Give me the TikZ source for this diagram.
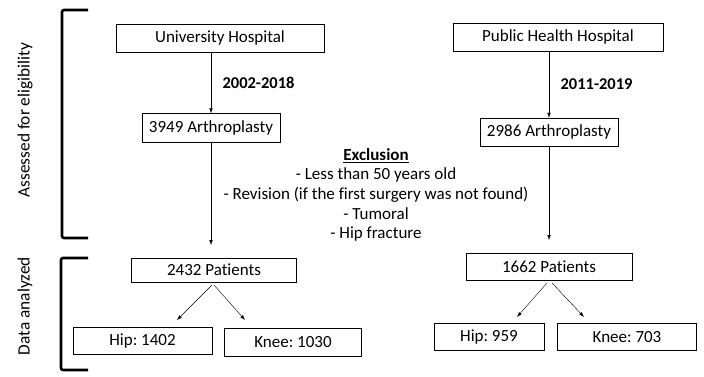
\documentclass[tikz,border=0pt]{standalone}
\usepackage{fontspec}
\setmainfont{Carlito}[Ligatures={NoCommon}]
\frenchspacing
\usetikzlibrary{arrows.meta}
\tikzset{
  box/.style={draw, thin, inner sep=0pt, font=\fontsize{17}{19}\selectfont},
  flow/.style={-{Latex[length=5pt,width=3.5pt]}, thin},
  brack/.style={line width=2.6pt, rounded corners=2pt},
  side/.style={rotate=90, font=\fontsize{17.3}{19}\selectfont},
}
\begin{document}
\begin{tikzpicture}[x=1pt,y=-1pt]
            \useasboundingbox (0,0) rectangle (704,377);
            % left column
            \node[box, minimum width=208pt, minimum height=28pt] (uh) at (220,38) {University Hospital};
            \node[box, minimum width=138pt, minimum height=29pt] (ua) at (211,128) {3949 Arthroplasty};
            \node[box, minimum width=165pt, minimum height=24pt] (up) at (214,270) {2432 Patients};
            \node[box, minimum width=139pt, minimum height=27pt] (uhip) at (142.5,341) {Hip: 1402};
            \node[box, minimum width=137pt, minimum height=28pt] (uknee) at (293,342) {Knee: 1030};
            \draw[flow] (uh.south -| ua) -- (ua.north) node[midway, right=8pt, font=\fontsize{16.5}{19}\selectfont\bfseries] {2002-2018};
            \draw[flow] (ua.south) -- (211,245);
            \draw[flow] (212,285) -- (177,320);
            \draw[flow] (214,285) -- (245,320);
            % right column
            \node[box, minimum width=210pt, minimum height=28pt] (ph) at (558,37) {Public Health Hospital};
            \node[box, minimum width=138pt, minimum height=28pt] (pa) at (549,132) {2986 Arthroplasty};
            \node[box, minimum width=166pt, minimum height=27pt] (pp) at (549,267) {1662 Patients};
            \node[box, minimum width=110pt, minimum height=27pt] (phip) at (489,337) {Hip: 959};
            \node[box, minimum width=139pt, minimum height=27pt] (pknee) at (627,337) {Knee: 703};
            \draw[flow] (ph.south -| pa) -- (pa.north) node[midway, right=8pt, font=\fontsize{16.5}{19}\selectfont\bfseries] {2011-2019};
            \draw[flow] (pa.south) -- (549,240);
            \draw[flow] (547,283) -- (517,317);
            \draw[flow] (552,283) -- (584,317);
            % exclusion criteria
            \node[align=center, font=\fontsize{17}{19.7}\selectfont] (excl) at (376,195)
              {\textbf{\underline{Exclusion}}\\- Less than 50 years old\\- Revision (if the first surgery was not found)\\- Tumoral\\- Hip fracture};
            % brackets
            \draw[brack] (88,10) -- (62,10) -- (62,238) -- (88,238);
            \draw[brack] (88,258) -- (61,258) -- (61,370) -- (88,370);
            \node[side] (assess) at (25,120) {Assessed for eligibility};
            \node[side] (data) at (25,306) {Data analyzed};
        \end{tikzpicture}
\end{document}
